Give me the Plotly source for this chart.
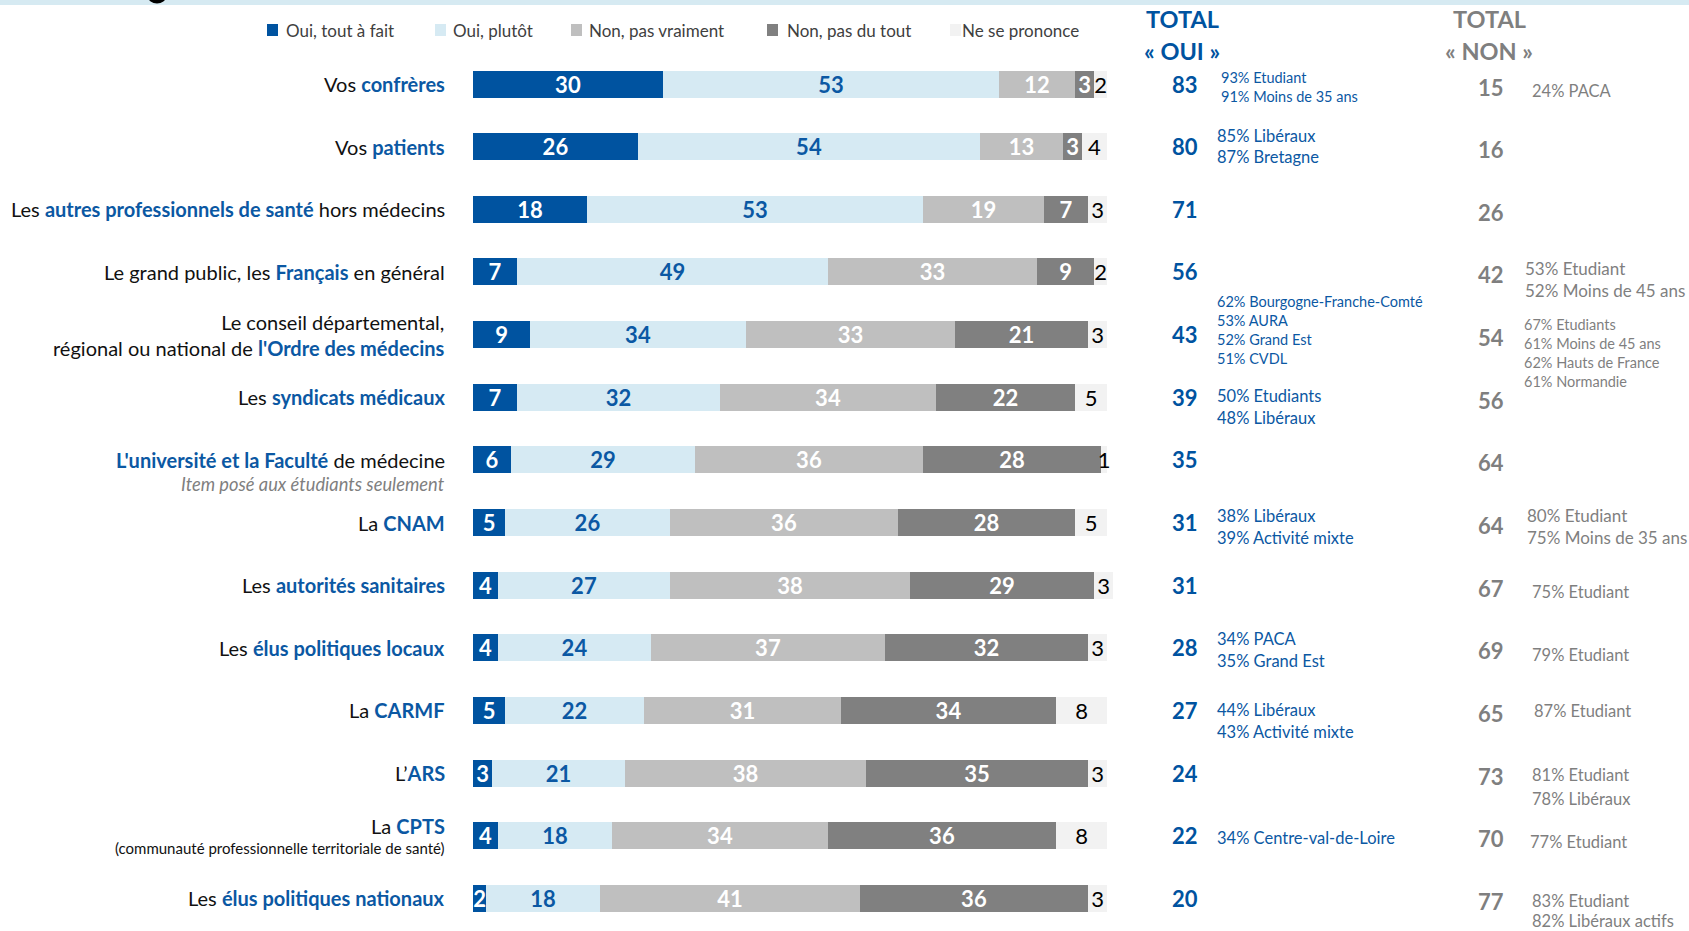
import plotly.graph_objects as go

# ---------------- DATA ----------------
cat_pre = ["Vos ", "Vos ", "Les ", "Le grand public, les ",
           "Le conseil départemental,<br>régional ou national de ", "Les ", "",
           "La ", "Les ", "Les ", "La ", "L’", "La ", "Les "]
cat_bold = ["confrères", "patients", "autres professionnels de santé", "Français",
            "l'Ordre des médecins", "syndicats médicaux", "L'université et la Faculté",
            "CNAM", "autorités sanitaires", "élus politiques locaux", "CARMF", "ARS",
            "CPTS", "élus politiques nationaux"]
cat_post = ["", "", " hors médecins", " en général", "", "", " de médecine",
            "", "", "", "", "", "", ""]
cat_sub = {6: "Item posé aux étudiants seulement",
           12: "(communauté professionnelle territoriale de santé)"}

series_names = ["Oui, tout à fait", "Oui, plutôt", "Non, pas vraiment",
                "Non, pas du tout", "Ne se prononce"]
oui_tout = [30, 26, 18, 7, 9, 7, 6, 5, 4, 4, 5, 3, 4, 2]
oui_plutot = [53, 54, 53, 49, 34, 32, 29, 26, 27, 24, 22, 21, 18, 18]
non_pas_vraiment = [12, 13, 19, 33, 33, 34, 36, 36, 38, 37, 31, 38, 34, 41]
non_pas_du_tout = [3, 3, 7, 9, 21, 22, 28, 28, 29, 32, 34, 35, 36, 36]
nsp = [2, 4, 3, 2, 3, 5, 1, 5, 3, 3, 8, 3, 8, 3]

total_oui = [83, 80, 71, 56, 43, 39, 35, 31, 31, 28, 27, 24, 22, 20]
total_non = [15, 16, 26, 42, 54, 56, 64, 64, 67, 69, 65, 73, 70, 77]

notes_oui = [["93% Etudiant", "91% Moins de 35 ans"],
             ["85% Libéraux", "87% Bretagne"],
             [], [],
             ["62% Bourgogne-Franche-Comté", "53% AURA", "52% Grand Est", "51% CVDL"],
             ["50% Etudiants", "48% Libéraux"],
             [],
             ["38% Libéraux", "39% Activité mixte"],
             [],
             ["34% PACA", "35% Grand Est"],
             ["44% Libéraux", "43% Activité mixte"],
             [],
             ["34% Centre-val-de-Loire"],
             []]
notes_non = [["24% PACA"], [], [],
             ["53% Etudiant", "52% Moins de 45 ans"],
             ["67% Etudiants", "61% Moins de 45 ans", "62% Hauts de France", "61% Normandie"],
             [], [],
             ["80% Etudiant", "75% Moins de 35 ans"],
             ["75% Etudiant"], ["79% Etudiant"], ["87% Etudiant"],
             ["81% Etudiant", "78% Libéraux"],
             ["77% Etudiant"],
             ["83% Etudiant", "82% Libéraux actifs"]]

# ---------------- STYLE / LAYOUT ----------------
W, H = 1689, 931
FONT = "Lato"
BLUE = "#0053A0"
LBLUE = "#D6EAF3"
LGREY = "#BFBFBF"
DGREY = "#808080"
VLGREY = "#F2F2F2"
TXTBLUE = "#0B58A3"
GREYTXT = "#7F7F7F"

colors = [BLUE, LBLUE, LGREY, DGREY, VLGREY]
text_colors = ["white", TXTBLUE, "white", "white", "black"]
text_bold = [True, True, True, True, False]

n = len(cat_bold)
rows = list(range(n))
row0_px, rowlast_px = 84.0, 898.4
unit = (rowlast_px - row0_px) / (n - 1)
y_top = -row0_px / unit
y_bot = (n - 1) + (H - rowlast_px) / unit

bar_x0, bar_x1 = 473.0, 1107.0
pxper = (bar_x1 - bar_x0) / 100.0
xmax = 102
dom_end = (bar_x0 + pxper * xmax) / W

fig = go.Figure()
all_series = [oui_tout, oui_plutot, non_pas_vraiment, non_pas_du_tout, nsp]
for name, vals, col, tcol, bold in zip(series_names, all_series, colors, text_colors, text_bold):
    fig.add_trace(go.Bar(
        x=vals, y=rows, orientation="h", name=name,
        marker=dict(color=col, line=dict(width=0)),
        width=27 / unit,
        text=[f"<b>{v}</b>" if bold else f"{v}" for v in vals],
        textposition="inside", insidetextanchor="middle", textangle=0,
        textfont=dict(family=FONT, size=22, color=tcol),
        cliponaxis=False, showlegend=False, hoverinfo="skip",
    ))

ann = []
shapes = []

def P(x):
    return x / W

def Q(y):
    return 1 - y / H

# category labels
lab_x = P(447)
for i in rows:
    txt = (f"{cat_pre[i]}<b><span style='color:{TXTBLUE}'>{cat_bold[i]}</span></b>{cat_post[i]}")
    shift = 0
    if i == 12:
        shift = 10
    ann.append(dict(x=lab_x, y=i, xref="paper", yref="y", text=txt, showarrow=False,
                    xanchor="right", yanchor="middle", align="right", yshift=shift,
                    font=dict(family=FONT, size=20, color="#111111")))
# subtitles
ann.append(dict(x=lab_x, y=6, xref="paper", yref="y", text=f"<i>{cat_sub[6]}</i>",
                showarrow=False, xanchor="right", yanchor="middle", yshift=-24,
                font=dict(family=FONT, size=18.3, color=GREYTXT)))
ann.append(dict(x=lab_x, y=12, xref="paper", yref="y", text=cat_sub[12],
                showarrow=False, xanchor="right", yanchor="middle", yshift=-12,
                font=dict(family=FONT, size=15, color="#111111")))

# headers
for txt, yy in [("TOTAL", 19), ("« OUI »", 51)]:
    ann.append(dict(x=P(1182), y=Q(yy), xref="paper", yref="paper", text=f"<b>{txt}</b>",
                    showarrow=False, xanchor="center", yanchor="middle",
                    font=dict(family=FONT, size=23.5, color=BLUE)))
for txt, yy in [("TOTAL", 19), ("« NON »", 51)]:
    ann.append(dict(x=P(1489), y=Q(yy), xref="paper", yref="paper", text=f"<b>{txt}</b>",
                    showarrow=False, xanchor="center", yanchor="middle",
                    font=dict(family=FONT, size=23.5, color=GREYTXT)))

# totals
for i in rows:
    ann.append(dict(x=P(1185), y=i, xref="paper", yref="y", text=f"<b>{total_oui[i]}</b>",
                    showarrow=False, xanchor="center", yanchor="middle",
                    font=dict(family=FONT, size=22, color=BLUE)))
    ann.append(dict(x=P(1491), y=i, xref="paper", yref="y", text=f"<b>{total_non[i]}</b>",
                    showarrow=False, xanchor="center", yanchor="middle", yshift=-3,
                    font=dict(family=FONT, size=22, color=GREYTXT)))

# note layout: row -> (first-line offset px, spacing px, font size, x px)
oui_note_style = {0: (-6.5, 19.4, 14.5, 1219), 1: (-10.8, 21.5, 16.5, 1215),
                  4: (-33.4, 19.0, 14.5, 1215), 5: (-1, 21.5, 16.5, 1215),
                  7: (-6.5, 21.5, 16.5, 1215), 9: (-8.6, 21.5, 16.5, 1215),
                  10: (0, 21.5, 16.5, 1215), 12: (2, 21.5, 16.5, 1215)}
non_note_style = {0: (6.5, 21.5, 16.5, 1530), 3: (-3.2, 21.5, 17, 1523),
                  4: (-9.7, 19.0, 14.5, 1522), 7: (-7.5, 22.5, 17, 1525),
                  8: (6.5, 21.5, 16.5, 1530), 9: (7.5, 21.5, 16.5, 1530),
                  10: (1, 21.5, 16.5, 1532), 11: (2, 23.7, 16.5, 1530),
                  12: (6.5, 21.5, 16.5, 1528), 13: (2.5, 20.0, 16.5, 1530)}

for notes, style, col in [(notes_oui, oui_note_style, TXTBLUE), (notes_non, non_note_style, GREYTXT)]:
    for i in rows:
        if not notes[i]:
            continue
        off, sp, fs, xx = style[i]
        for k, t in enumerate(notes[i]):
            ann.append(dict(x=P(xx), y=i, xref="paper", yref="y", text=t, showarrow=False,
                            xanchor="left", yanchor="middle", yshift=-(off + k * sp),
                            font=dict(family=FONT, size=fs, color=col)))

# legend (manual)
leg_sq = [267, 435, 571, 767, 950]
leg_tx = [284, 451, 587, 785, 960]
leg_y = 30
for name, col, sx, tx in zip(series_names, colors, leg_sq, leg_tx):
    shapes.append(dict(type="rect", xref="paper", yref="paper",
                       x0=P(sx), x1=P(sx + 11), y0=Q(leg_y + 6), y1=Q(leg_y - 6),
                       fillcolor=col, line=dict(width=0)))
    ann.append(dict(x=P(tx), y=Q(leg_y), xref="paper", yref="paper", text=name,
                    showarrow=False, xanchor="left", yanchor="middle",
                    font=dict(family=FONT, size=17, color="#404040")))

# top decorative band
shapes.append(dict(type="rect", xref="paper", yref="paper", x0=0, x1=1, y0=Q(5), y1=1,
                   fillcolor="#D6EAF2", line=dict(width=0), layer="below"))
shapes.append(dict(type="circle", xref="paper", yref="paper", x0=P(148), x1=P(166),
                   y0=Q(3.5), y1=Q(-10), fillcolor="black", line=dict(width=0)))

fig.update_layout(
    width=W, height=H, barmode="stack", bargap=0,
    margin=dict(l=0, r=0, t=0, b=0),
    paper_bgcolor="white", plot_bgcolor="white",
    xaxis=dict(domain=[bar_x0 / W, dom_end], range=[0, xmax], visible=False, fixedrange=True),
    yaxis=dict(domain=[0, 1], range=[y_bot, y_top], visible=False, fixedrange=True),
    uniformtext=dict(minsize=22, mode="show"),
    annotations=ann, shapes=shapes,
    font=dict(family=FONT),
)

fig.write_html("out.html", config={"displayModeBar": False},
               post_script="document.body.style.margin='0px';document.body.style.overflow='hidden';")
